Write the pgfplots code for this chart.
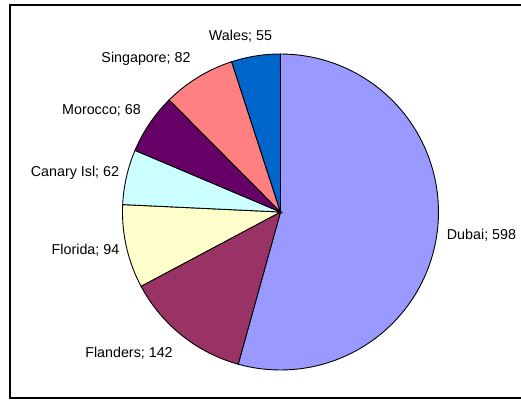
\documentclass[border=0pt]{standalone}
\usepackage{pgfplots}
\pgfplotsset{compat=1.18}
\usepackage{fontspec}
\setmainfont{Liberation Sans}
\definecolor{cDubai}{HTML}{9999FF}
\definecolor{cFlanders}{HTML}{993366}
\definecolor{cFlorida}{HTML}{FFFFCC}
\definecolor{cCanary}{HTML}{CCFFFF}
\definecolor{cMorocco}{HTML}{660066}
\definecolor{cSingapore}{HTML}{FF8080}
\definecolor{cWales}{HTML}{0066CC}
% values
\def\vDubai{598}
\def\vFlanders{142}
\def\vFlorida{94}
\def\vCanary{62}
\def\vMorocco{68}
\def\vSingapore{82}
\def\vWales{55}
\begin{document}
\begin{tikzpicture}
\pgfmathsetmacro{\tot}{\vDubai+\vFlanders+\vFlorida+\vCanary+\vMorocco+\vSingapore+\vWales}
\pgfmathsetmacro{\aA}{90}
\pgfmathsetmacro{\aB}{\aA-360*(\vDubai/\tot)}
\pgfmathsetmacro{\aC}{\aB-360*(\vFlanders/\tot)}
\pgfmathsetmacro{\aD}{\aC-360*(\vFlorida/\tot)}
\pgfmathsetmacro{\aE}{\aD-360*(\vCanary/\tot)}
\pgfmathsetmacro{\aF}{\aE-360*(\vMorocco/\tot)}
\pgfmathsetmacro{\aG}{\aF-360*(\vSingapore/\tot)}
\pgfmathsetmacro{\aH}{\aG-360*(\vWales/\tot)}
\def\cx{280.5}
\def\cy{188}
\def\rr{158}
\begin{axis}[
  at={(0,0)}, anchor=south west,
  width=521bp, height=400bp, scale only axis,
  xmin=0, xmax=521, ymin=0, ymax=400,
  hide axis, clip=false,
  every axis plot/.append style={draw=black, line width=0.9bp, samples=90, mark=none},
]
\addplot[fill=cDubai, domain=\aB:\aA] ({\cx+\rr*cos(x)},{\cy+\rr*sin(x)}) -- (axis cs:\cx,\cy) -- cycle;
\addplot[fill=cFlanders, domain=\aC:\aB] ({\cx+\rr*cos(x)},{\cy+\rr*sin(x)}) -- (axis cs:\cx,\cy) -- cycle;
\addplot[fill=cFlorida, domain=\aD:\aC] ({\cx+\rr*cos(x)},{\cy+\rr*sin(x)}) -- (axis cs:\cx,\cy) -- cycle;
\addplot[fill=cCanary, domain=\aE:\aD] ({\cx+\rr*cos(x)},{\cy+\rr*sin(x)}) -- (axis cs:\cx,\cy) -- cycle;
\addplot[fill=cMorocco, domain=\aF:\aE] ({\cx+\rr*cos(x)},{\cy+\rr*sin(x)}) -- (axis cs:\cx,\cy) -- cycle;
\addplot[fill=cSingapore, domain=\aG:\aF] ({\cx+\rr*cos(x)},{\cy+\rr*sin(x)}) -- (axis cs:\cx,\cy) -- cycle;
\addplot[fill=cWales, domain=\aH:\aG] ({\cx+\rr*cos(x)},{\cy+\rr*sin(x)}) -- (axis cs:\cx,\cy) -- cycle;
\draw[line width=1.4bp] (axis cs:10,2) rectangle (axis cs:530,395);
\begin{scope}[every node/.style={font=\fontsize{14.3bp}{16bp}\selectfont, inner sep=0pt}]
\node at (axis cs:481.5,165) {Dubai; \vDubai};
\node at (axis cs:129,47) {Flanders; \vFlanders};
\node at (axis cs:85.5,150) {Florida; \vFlorida};
\node at (axis cs:75,227) {Canary Isl; \vCanary};
\node at (axis cs:101.5,290) {Morocco; \vMorocco};
\node at (axis cs:146,341) {Singapore; \vSingapore};
\node at (axis cs:240.5,364) {Wales; \vWales};
\end{scope}
\end{axis}
\pgfresetboundingbox
\path (0,0) rectangle (521bp,400bp);
\end{tikzpicture}
\end{document}
